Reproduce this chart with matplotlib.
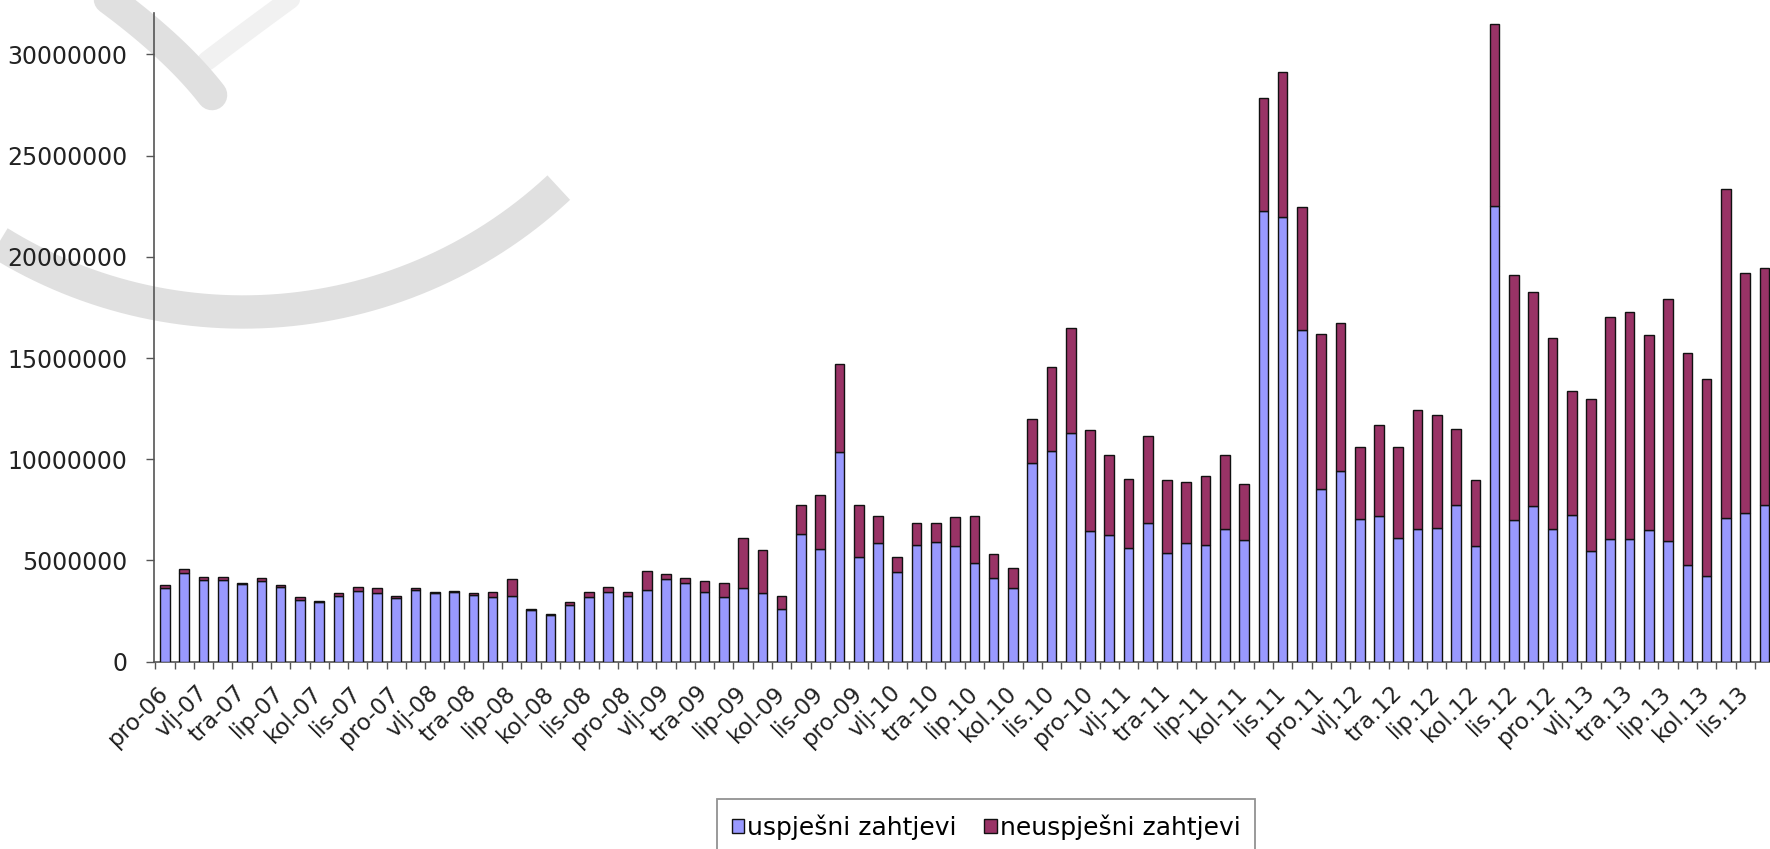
import numpy as np
import matplotlib
matplotlib.use("Agg")
import matplotlib.pyplot as plt
from matplotlib.lines import Line2D
from matplotlib.ticker import FuncFormatter, FixedLocator

plt.rcParams['font.family'] = ['DejaVu Sans']

# mjesecni podaci, pro-06 .. stu-13 (u milijunima)
uspjesni = [3.65, 4.36, 4.03, 4.03, 3.84, 3.99, 3.70, 3.05, 2.96, 3.24,
            3.51, 3.38, 3.13, 3.54, 3.38, 3.42, 3.29, 3.21, 3.24, 2.55,
            2.30, 2.80, 3.18, 3.46, 3.26, 3.54, 4.08, 3.87, 3.43, 3.18,
            3.66, 3.38, 2.59, 6.31, 5.55, 10.38, 5.19, 5.85, 4.45, 5.76,
            5.93, 5.73, 4.86, 4.15, 3.66, 9.80, 10.42, 11.30, 6.44, 6.28,
            5.64, 6.86, 5.36, 5.86, 5.75, 6.54, 6.01, 22.26, 21.99, 16.37,
            8.52, 9.40, 7.04, 7.19, 6.11, 6.54, 6.59, 7.75, 5.72, 22.52,
            6.99, 7.68, 6.55, 7.25, 5.49, 6.08, 6.08, 6.51, 5.98, 4.80,
            4.21, 7.10, 7.37, 7.72]
neuspjesni = [0.14, 0.22, 0.17, 0.17, 0.06, 0.16, 0.10, 0.13, 0.05, 0.14,
              0.19, 0.24, 0.11, 0.10, 0.06, 0.09, 0.09, 0.25, 0.83, 0.05,
              0.05, 0.13, 0.25, 0.25, 0.17, 0.94, 0.23, 0.28, 0.56, 0.69,
              2.43, 2.14, 0.67, 1.43, 2.68, 4.31, 2.53, 1.36, 0.70, 1.07,
              0.90, 1.42, 2.35, 1.17, 0.97, 2.17, 4.14, 5.17, 4.99, 3.91,
              3.41, 4.29, 3.61, 3.00, 3.43, 3.65, 2.78, 5.58, 7.14, 6.09,
              7.67, 7.31, 3.58, 4.50, 4.51, 5.92, 5.59, 3.75, 3.26, 9.01,
              12.13, 10.60, 9.46, 6.10, 7.51, 10.94, 11.18, 9.65, 11.95, 10.45,
              9.75, 16.24, 11.85, 11.74]

# oznake svaki drugi mjesec
oznake = ['pro-06', 'vlj-07', 'tra-07', 'lip-07', 'kol-07', 'lis-07',
          'pro-07', 'vlj-08', 'tra-08', 'lip-08', 'kol-08', 'lis-08',
          'pro-08', 'vlj-09', 'tra-09', 'lip-09', 'kol-09', 'lis-09',
          'pro-09', 'vlj-10', 'tra-10', 'lip.10', 'kol.10', 'lis.10',
          'pro-10', 'vlj-11', 'tra-11', 'lip-11', 'kol-11', 'lis.11',
          'pro.11', 'vlj.12', 'tra.12', 'lip.12', 'kol.12', 'lis.12',
          'pro.12', 'vlj.13', 'tra.13', 'lip.13', 'kol.13', 'lis.13']

usp = np.array(uspjesni) * 1e6
neu = np.array(neuspjesni) * 1e6
x = np.arange(len(usp))

W, H = 1770, 849
fig = plt.figure(figsize=(W / 100, H / 100), dpi=100)


def fx(px):
    return np.asarray(px) / W


def fy(py):
    # py mjeren odozgo
    return 1 - np.asarray(py) / H


def bezier(p0, p1, p2, n=60):
    s = np.linspace(0, 1, n)[:, None]
    return (1 - s) ** 2 * np.array(p0) + 2 * s * (1 - s) * np.array(p1) + s ** 2 * np.array(p2)


# vodeni zig u pozadini
t = np.radians(np.linspace(232, 313, 200))
arc_x = 243 + 463 * np.cos(t)
arc_y = -151 - 463 * np.sin(t)
fig.add_artist(Line2D(fx(arc_x), fy(arc_y), transform=fig.transFigure,
                      color='#e0e0e0', lw=24, solid_capstyle='butt', zorder=0))
lt = bezier((300, -8), (245, 32), (207, 61))
fig.add_artist(Line2D(fx(lt[:, 0]), fy(lt[:, 1]), transform=fig.transFigure,
                      color='#f1f1f1', lw=14, solid_capstyle='round', zorder=0))
bz = bezier((75, -25), (168, 38), (212, 95))
fig.add_artist(Line2D(fx(bz[:, 0]), fy(bz[:, 1]), transform=fig.transFigure,
                      color='#e0e0e0', lw=22, solid_capstyle='round', zorder=0))

ax = fig.add_axes([154 / W, 1 - 661.7 / H, (W - 154) / W, (661.7 - 13) / H])
ax.set_facecolor('none')

bw = 0.5
ax.bar(x, usp, width=bw, color='#9999ff', edgecolor='#111111', linewidth=1.0,
       label='uspješni zahtjevi', zorder=3)
ax.bar(x, neu, width=bw, bottom=usp, color='#993366', edgecolor='#111111',
       linewidth=1.0, label='neuspješni zahtjevi', zorder=3)

ax.set_xlim(-0.571, 83.29)
ax.set_ylim(0, 32.05e6)

for sp in ['top', 'right']:
    ax.spines[sp].set_visible(False)
for sp in ['left', 'bottom']:
    ax.spines[sp].set_color('#555555')
    ax.spines[sp].set_linewidth(1.2)

ax.set_yticks(np.arange(0, 30e6 + 1, 5e6))
ax.yaxis.set_major_formatter(FuncFormatter(lambda v, p: '%d' % v))
ax.tick_params(axis='y', direction='out', length=6, width=1.0, color='#555555',
               labelsize=17, labelcolor='#222222', pad=13)

ax.set_xticks(x[::2])
ax.set_xticklabels(oznake, rotation=45, ha='right', va='center',
                   rotation_mode='anchor')
ax.xaxis.set_minor_locator(FixedLocator(np.arange(-0.5, len(x), 1)))
ax.tick_params(axis='x', which='major', length=0, labelsize=16.5,
               labelcolor='#222222', pad=20)
ax.tick_params(axis='x', which='minor', direction='out', length=5, width=1.0,
               color='#555555')

leg = fig.legend(loc='upper center', bbox_to_anchor=(986 / W, 1 - 799 / H),
                 ncol=2, fontsize=18, frameon=True, fancybox=False,
                 handlelength=0.5, handleheight=0.5, handletextpad=0.12,
                 columnspacing=1.1, borderpad=0.6, borderaxespad=0)
leg.get_frame().set_edgecolor('#777777')
leg.get_frame().set_linewidth(1.3)
for h in leg.legend_handles:
    h.set_edgecolor('#111111')

fig.savefig('out.png', dpi=100)
